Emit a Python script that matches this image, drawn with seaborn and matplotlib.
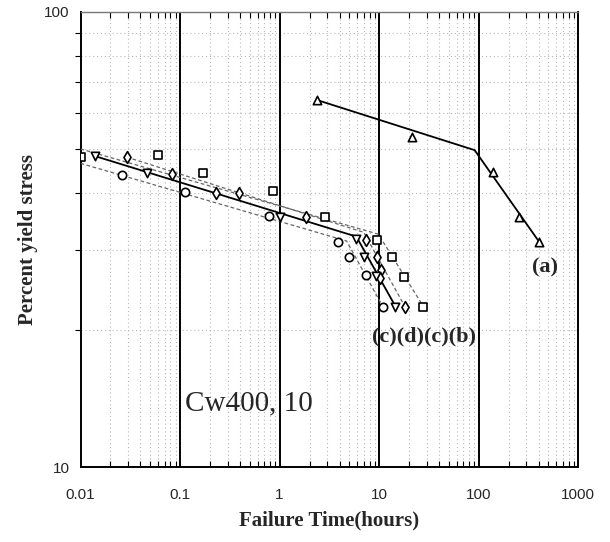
import numpy as np
import pandas as pd
import matplotlib
matplotlib.use("Agg")
import matplotlib.pyplot as plt
import seaborn as sns
from matplotlib.ticker import LogLocator, FixedLocator, NullFormatter, FixedFormatter

# ---- data ----
a_time = [2.4, 21.4, 138, 256, 403]
a_stress = [64.0, 53.2, 44.4, 35.5, 31.3]

b_time = [0.0101, 0.060, 0.171, 0.857, 2.88, 9.6, 13.6, 17.8, 27.6]
b_stress = [48.0, 48.4, 44.2, 40.4, 35.4, 31.6, 28.9, 26.2, 22.5]

c_time = [0.026, 0.112, 0.78, 3.86, 4.98, 7.4, 10.9]
c_stress = [43.8, 40.3, 35.7, 31.3, 29.0, 26.4, 22.5]

c2_time = [0.029, 0.0838, 0.232, 0.39, 1.84, 7.3, 9.6, 10.4, 10.3, 18.2]
c2_stress = [48.0, 44.0, 40.1, 40.1, 35.5, 31.6, 28.9, 27.1, 26.1, 22.5]

d_time = [0.0141, 0.047, 1.0, 5.8, 7.1, 9.2, 14.5]
d_stress = [48.2, 44.2, 35.5, 31.7, 28.9, 26.3, 22.5]

# bilinear fit lines (start, knee, end)
a_fit_t = [2.4, 91, 403]
a_fit_s = [64.0, 49.7, 31.3]
b_fit_t = [0.01, 9.8, 27.6]
b_fit_s = [50.0, 32.5, 22.6]
c_fit_t = [0.01, 4.7, 10.8]
c_fit_s = [46.5, 31.4, 22.6]
c2_fit_t = [0.029, 7.0, 18.0]
c2_fit_s = [48.0, 32.8, 22.6]
d_fit_t = [0.0141, 5.9, 14.5]
d_fit_s = [48.2, 32.1, 22.6]

x_ticks = [0.01, 0.1, 1, 10, 100, 1000]
x_tick_labels = ["0.01", "0.1", "1", "10", "100", "1000"]
y_ticks = [10, 100]
y_tick_labels = ["10", "100"]

sns.set_style("white")
plt.rcParams['font.family'] = ['Liberation Sans', 'DejaVu Sans']

fig = plt.figure(figsize=(6.1, 5.42), dpi=100)
ax = fig.add_axes([0.132, 0.138, 0.816, 0.840])
ax.set_xscale("log")
ax.set_yscale("log")
ax.set_xlim(0.01, 1000)
ax.set_ylim(10, 100)

# grid
ax.xaxis.set_minor_locator(LogLocator(base=10, subs=np.arange(2, 10), numticks=20))
ax.yaxis.set_minor_locator(FixedLocator([20, 30, 40, 50, 60, 70, 80, 90]))
ax.xaxis.set_minor_formatter(NullFormatter())
ax.yaxis.set_minor_formatter(NullFormatter())
ax.grid(which="minor", axis="both", color="#b8b8b8", linestyle=(0, (1, 2.5)), linewidth=0.8)
for xv in [0.1, 1, 10, 100]:
    ax.axvline(xv, color="black", linewidth=1.4, zorder=1)

fits = [
    (a_fit_t, a_fit_s, "-", "black", 1.3),
    (b_fit_t, b_fit_s, (0, (3, 2)), "#666666", 0.9),
    (c_fit_t, c_fit_s, (0, (3, 2)), "#666666", 0.9),
    (c2_fit_t, c2_fit_s, (0, (3, 2)), "#666666", 0.9),
    (d_fit_t, d_fit_s, "-", "black", 1.3),
]
for t, s, ls, col, lw in fits:
    df = pd.DataFrame({"t": t, "s": s})
    sns.lineplot(data=df, x="t", y="s", ax=ax, sort=False, estimator=None,
                 color=col, linestyle=ls, linewidth=lw, zorder=3)

series = [
    (a_time, a_stress, "^"),
    (b_time, b_stress, "s"),
    (c_time, c_stress, "o"),
    (c2_time, c2_stress, "d"),
    (d_time, d_stress, "v"),
]
for t, s, m in series:
    df = pd.DataFrame({"t": t, "s": s})
    sns.scatterplot(data=df, x="t", y="s", ax=ax, marker=m, s=36,
                    color="white", edgecolor="black", linewidth=1.2, zorder=4)

ax.xaxis.set_major_locator(FixedLocator(x_ticks))
ax.xaxis.set_major_formatter(FixedFormatter(x_tick_labels))
ax.yaxis.set_major_locator(FixedLocator(y_ticks))
ax.yaxis.set_major_formatter(FixedFormatter(y_tick_labels))
ax.tick_params(axis="both", which="major", labelsize=11, length=5, width=1,
               direction="out", color="black", pad=3)
ax.tick_params(axis="x", which="minor", length=4, width=0.8, direction="in",
               bottom=True, top=True, color="black")
ax.tick_params(axis="y", which="minor", length=4, width=0.8, direction="out",
               left=True, color="black")
ax.tick_params(axis="x", which="major", pad=10)

for side in ["left", "bottom", "right"]:
    ax.spines[side].set_color("black")
    ax.spines[side].set_linewidth(1.4)
ax.spines["top"].set_color("#777777")
ax.spines["top"].set_linewidth(1.0)

serif = ['Liberation Serif', 'DejaVu Serif']
ax.set_xlabel("Failure Time(hours)", fontsize=15, fontweight="bold", family=serif, labelpad=6)
ax.set_ylabel("Percent yield stress", fontsize=15, fontweight="bold", family=serif, labelpad=4)

ax.text(0.112, 13.8, "Cw400, 10", fontsize=21, family=serif, va="center", ha="left")
ax.text(8.4, 19.4, "(c)(d)(c)(b)", fontsize=16, fontweight="bold", family=serif, va="center", ha="left")
ax.text(340, 27.5, "(a)", fontsize=16, fontweight="bold", family=serif, va="center", ha="left")

fig.savefig("out.png", dpi=100)
